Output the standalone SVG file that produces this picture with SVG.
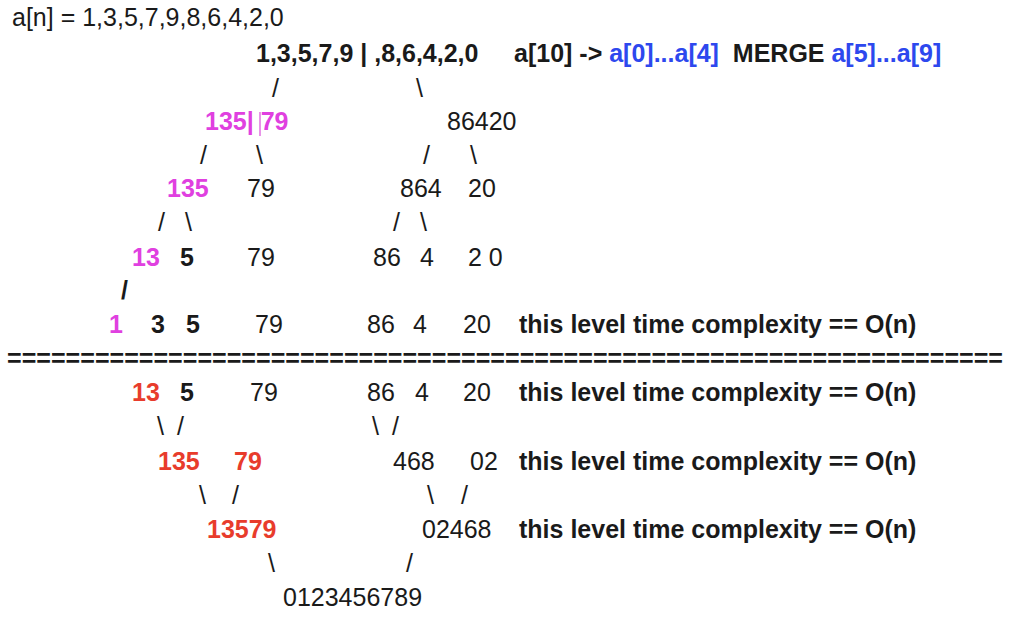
<svg xmlns="http://www.w3.org/2000/svg" width="1027" height="627" viewBox="0 0 1027 627">
<style>
text{font-family:"Liberation Sans",Arial,sans-serif;font-size:25px;fill:#1a1a1a}
.b{font-weight:bold}
.m{fill:#e040e0}
.r{fill:#e83c2c}
.u{fill:#2d48ee}
</style>
<rect width="1027" height="627" fill="#ffffff"/>
<g id="header">
<text x="12" y="26">a[n] = 1,3,5,7,9,8,6,4,2,0</text>
</g>
<g id="root">
<text x="256" y="62" class="b">1,3,5,7,9 | ,8,6,4,2,0</text>
<text x="514" y="62" class="b" xml:space="preserve">a[10] -&gt; <tspan class="u">a[0]...a[4]</tspan>  MERGE <tspan class="u">a[5]...a[9]</tspan></text>
</g>
<g id="split-l1">
<text x="205" y="130" class="b m" xml:space="preserve">135| 79</text>
<line x1="260" y1="112" x2="260" y2="136" stroke="#e070e0" stroke-width="1.5"/>
<text x="447" y="130">86420</text>
</g>
<g id="split-l2">
<text x="167" y="197" class="b m">135</text>
<text x="247" y="197">79</text>
<text x="400" y="197">864</text>
<text x="468" y="197">20</text>
</g>
<g id="split-l3">
<text x="132" y="266" class="b m">13</text>
<text x="180" y="266" class="b">5</text>
<text x="247" y="266">79</text>
<text x="373" y="266">86</text>
<text x="420" y="266">4</text>
<text x="468" y="266">2 0</text>
</g>
<g id="split-l4">
<text x="109" y="333" class="b m">1</text>
<text x="151" y="333" class="b">3</text>
<text x="186" y="333" class="b">5</text>
<text x="255" y="333">79</text>
<text x="367" y="333">86</text>
<text x="413" y="333">4</text>
<text x="463" y="333">20</text>
<text x="519" y="333" class="b">this level time complexity == O(n)</text>
</g>
<g id="divider">
<text x="7" y="367" class="b" textLength="996" lengthAdjust="spacingAndGlyphs">====================================================================</text>
</g>
<g id="merge-l1">
<text x="132" y="401" class="b r">13</text>
<text x="180" y="401" class="b">5</text>
<text x="250" y="401">79</text>
<text x="367" y="401">86</text>
<text x="415" y="401">4</text>
<text x="463" y="401">20</text>
<text x="519" y="401" class="b">this level time complexity == O(n)</text>
</g>
<g id="merge-l2">
<text x="158" y="470" class="b r">135</text>
<text x="234" y="470" class="b r">79</text>
<text x="393" y="470">468</text>
<text x="470" y="470">02</text>
<text x="519" y="470" class="b">this level time complexity == O(n)</text>
</g>
<g id="merge-l3">
<text x="207" y="538" class="b r">13579</text>
<text x="422" y="538">02468</text>
<text x="519" y="538" class="b">this level time complexity == O(n)</text>
</g>
<g id="result">
<text x="283" y="606">0123456789</text>
</g>
<g id="connectors">
<text x="272" y="97">/</text>
<text x="416" y="97">\</text>
<text x="200" y="164">/</text>
<text x="256" y="164">\</text>
<text x="423" y="164">/</text>
<text x="470" y="164">\</text>
<text x="158" y="231">/</text>
<text x="185" y="231">\</text>
<text x="393" y="231">/</text>
<text x="420" y="231">\</text>
<text x="121" y="299" class="b">/</text>
<text x="157" y="435">\</text>
<text x="177" y="435">/</text>
<text x="372" y="435">\</text>
<text x="392" y="435">/</text>
<text x="199" y="504">\</text>
<text x="232" y="504">/</text>
<text x="427" y="504">\</text>
<text x="461" y="504">/</text>
<text x="268" y="572">\</text>
<text x="406" y="572">/</text>
</g>
</svg>
